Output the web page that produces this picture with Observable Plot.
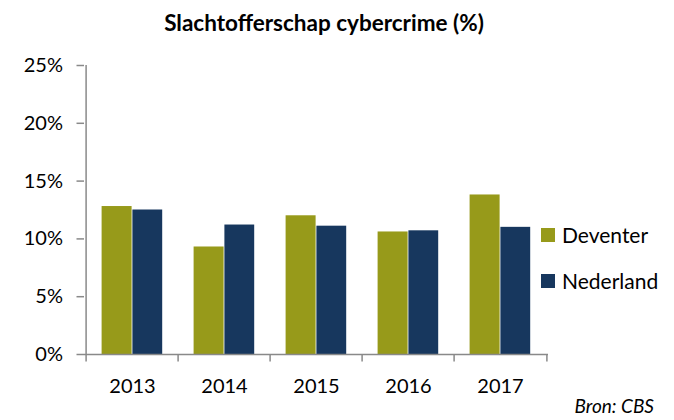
<!DOCTYPE html>
<html>
<head>
<meta charset="utf-8">
<script src="https://cdn.jsdelivr.net/npm/d3@7"></script>
<script src="https://cdn.jsdelivr.net/npm/@observablehq/plot@0.6"></script>
<style>
  html, body { margin: 0; padding: 0; background: #fff; }
  #wrap { position: relative; width: 674px; height: 420px; font-family: Lato, "Open Sans", sans-serif; color: #000; }
  #title { position: absolute; left: 0; width: 648px; top: 9px; text-align: center; font-weight: bold; font-size: 22.5px; }
  .leg { position: absolute; left: 541px; font-size: 21px; display: flex; align-items: center; }
  .sw { width: 14px; height: 14px; margin-right: 7px; }
  #src { position: absolute; right: 20px; top: 394px; font-style: italic; font-size: 19px; }
  svg { position: absolute; left: 0; top: 0; }
</style>
</head>
<body>
<div id="wrap">
  <div id="title">Slachtofferschap cybercrime (%)</div>
  <div id="chart"></div>
  <div id="legend"></div>
  <div id="src">Bron: CBS</div>
</div>
<script>
const years = ["2013", "2014", "2015", "2016", "2017"];
const seriesNames = ["Deventer", "Nederland"];
const deventer = [12.8, 9.3, 12.0, 10.6, 13.8];
const nederland = [12.5, 11.2, 11.1, 10.7, 11.0];
const yTicks = [0, 5, 10, 15, 20, 25];
const colors = ["#979A1A", "#17375E"];

const dataD = years.map((y, i) => ({year: y, series: seriesNames[0], value: deventer[i]}));
const dataN = years.map((y, i) => ({year: y, series: seriesNames[1], value: nederland[i]}));

const W = 674, H = 420, mL = 84, mR = 126, mT = 65, mB = 66;
const step = (W - mL - mR) / years.length;
const gray = "#898989";

const chart = Plot.plot({
  width: W, height: H,
  marginLeft: mL, marginRight: mR, marginTop: mT, marginBottom: mB,
  style: {fontFamily: "Lato, 'Open Sans', sans-serif", fontSize: "20px", color: "#000", background: "transparent"},
  x: {domain: years, padding: 0, axis: null, label: null},
  y: {domain: [0, 25], axis: null, label: null},
  color: {domain: seriesNames, range: colors},
  marks: [
    Plot.barY(dataD, {x: "year", y: "value", fill: "series", insetLeft: 15.6, insetRight: 46.4}),
    Plot.barY(dataN, {x: "year", y: "value", fill: "series", insetLeft: 46.4, insetRight: 15.8}),
    Plot.axisY({ticks: yTicks, tickFormat: d => d + "%", tickSize: 7.5, tickPadding: 14, stroke: gray, fill: "#000", strokeWidth: 1.5, fontSize: 20, label: null}),
    Plot.axisX({tickSize: 0, tickPadding: 24, fill: "#000", fontSize: 20, label: null}),
    Plot.ruleX(years, {x: d => d, y1: 0, y2: 0, insetBottom: -7.5, dx: -step / 2, stroke: gray, strokeWidth: 1.5}),
    Plot.ruleX(years.slice(-1), {x: d => d, y1: 0, y2: 0, insetBottom: -7.5, dx: step / 2, stroke: gray, strokeWidth: 1.5}),
    Plot.ruleY([0], {stroke: gray, strokeWidth: 1.5}),
    Plot.ruleX(years.slice(0, 1), {x: d => d, y1: 0, y2: 25, dx: -step / 2, stroke: gray, strokeWidth: 1.5})
  ]
});
document.getElementById("chart").appendChild(chart);

const legend = document.getElementById("legend");
const legTops = [222, 268];
seriesNames.forEach((name, i) => {
  const row = document.createElement("div");
  row.className = "leg";
  row.style.top = legTops[i] + "px";
  const sw = document.createElement("div");
  sw.className = "sw";
  sw.style.background = colors[i];
  row.appendChild(sw);
  const t = document.createElement("span");
  t.textContent = name;
  row.appendChild(t);
  legend.appendChild(row);
});
</script>
</body>
</html>
